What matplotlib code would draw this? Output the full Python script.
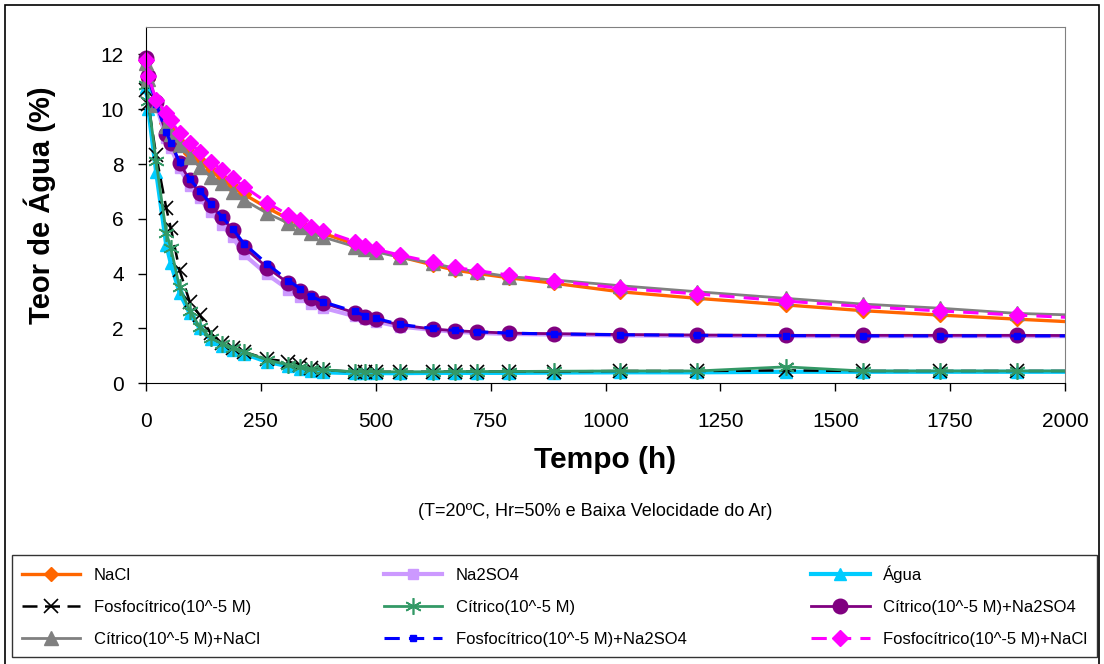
import matplotlib
matplotlib.use("Agg")
import matplotlib.pyplot as plt
from matplotlib.patches import Rectangle

plt.rcParams['font.family'] = ['Liberation Sans', 'DejaVu Sans']

# ── Dados ─────────────────────────────────────────────────────────────────────
tempo = [0, 5, 22, 44, 54, 73, 95, 117, 141, 165, 189, 213, 264, 310, 336, 360,
         386, 454, 476, 500, 552, 624, 672, 720, 790, 888, 1032, 1200, 1392,
         1560, 1728, 1896, 2064]

nacl = [11.75, 11.1, 10.2, 9.5, 9.25, 8.75, 8.4, 8.1, 7.75, 7.45, 7.15, 6.9, 6.4,
        6.0, 5.82, 5.62, 5.47, 5.08, 4.95, 4.85, 4.62, 4.32, 4.13, 4.01, 3.85,
        3.65, 3.34, 3.10, 2.86, 2.65, 2.49, 2.34, 2.2]
na2so4 = [11.75, 11.1, 10.15, 8.95, 8.6, 7.85, 7.2, 6.75, 6.25, 5.78, 5.33, 4.7,
          3.97, 3.42, 3.15, 2.9, 2.75, 2.45, 2.33, 2.25, 2.07, 1.95, 1.88, 1.84,
          1.8, 1.78, 1.75, 1.73, 1.72, 1.72, 1.72, 1.72, 1.72]
agua = [10.8, 10.0, 7.72, 5.05, 4.38, 3.3, 2.55, 2.0, 1.6, 1.35, 1.22, 1.08, 0.78,
        0.62, 0.52, 0.45, 0.40, 0.37, 0.37, 0.37, 0.37, 0.38, 0.38, 0.38, 0.38,
        0.39, 0.40, 0.40, 0.42, 0.42, 0.42, 0.42, 0.42]
fosfo = [10.7, 10.2, 8.33, 6.4, 5.66, 4.13, 2.98, 2.49, 1.82, 1.46, 1.28, 1.15,
         0.88, 0.79, 0.67, 0.57, 0.49, 0.42, 0.42, 0.42, 0.42, 0.42, 0.43, 0.43,
         0.43, 0.43, 0.45, 0.45, 0.47, 0.45, 0.45, 0.45, 0.45]
citrico = [10.9, 10.3, 8.1, 5.5, 4.95, 3.5, 2.65, 2.05, 1.65, 1.45, 1.3, 1.15,
           0.85, 0.67, 0.58, 0.51, 0.49, 0.42, 0.42, 0.42, 0.42, 0.42, 0.43,
           0.43, 0.43, 0.44, 0.45, 0.45, 0.6, 0.45, 0.45, 0.45, 0.45]
citrico_na2so4 = [11.86, 11.2, 10.28, 9.09, 8.76, 8.03, 7.42, 6.95, 6.5, 6.05,
                  5.6, 4.97, 4.22, 3.65, 3.38, 3.10, 2.92, 2.58, 2.43, 2.34,
                  2.13, 1.98, 1.92, 1.88, 1.83, 1.81, 1.78, 1.76, 1.75, 1.75,
                  1.75, 1.75, 1.74]
citrico_nacl = [11.7, 11.1, 10.16, 9.37, 9.1, 8.70, 8.27, 7.9, 7.54, 7.3, 6.99,
                6.69, 6.2, 5.84, 5.69, 5.47, 5.33, 4.99, 4.89, 4.80, 4.60, 4.38,
                4.20, 4.07, 3.89, 3.77, 3.56, 3.34, 3.10, 2.89, 2.74, 2.55, 2.47]
fosfo_na2so4 = [11.8, 11.2, 10.2, 9.16, 8.78, 8.07, 7.45, 7.03, 6.55, 6.08, 5.63,
                5.1, 4.35, 3.75, 3.45, 3.17, 2.97, 2.62, 2.47, 2.37, 2.15, 2.0,
                1.93, 1.88, 1.83, 1.80, 1.77, 1.75, 1.74, 1.73, 1.73, 1.73, 1.73]
fosfo_nacl = [11.8, 11.2, 10.35, 9.85, 9.6, 9.12, 8.76, 8.45, 8.09, 7.78, 7.48,
              7.18, 6.59, 6.14, 5.96, 5.72, 5.56, 5.17, 5.02, 4.89, 4.68, 4.42,
              4.23, 4.11, 3.95, 3.74, 3.47, 3.26, 3.0, 2.80, 2.64, 2.49, 2.36]

labels = ["NaCl", "Na2SO4", "Água",
          "Fosfocítrico(10^-5 M)", "Cítrico(10^-5 M)", "Cítrico(10^-5 M)+Na2SO4",
          "Cítrico(10^-5 M)+NaCl", "Fosfocítrico(10^-5 M)+Na2SO4",
          "Fosfocítrico(10^-5 M)+NaCl"]
x_ticks = [0, 250, 500, 750, 1000, 1250, 1500, 1750, 2000]
y_ticks = [0, 2, 4, 6, 8, 10, 12]

# ── Estilos ───────────────────────────────────────────────────────────────────
asterisk = (6, 2, 0)
styles = [
    (nacl,           dict(color="#FF6600", lw=2.4, ls="-",  marker="D", ms=7)),
    (na2so4,         dict(color="#CC99FF", lw=3.0, ls="-",  marker="s", ms=7)),
    (agua,           dict(color="#00CCFF", lw=3.0, ls="-",  marker="^", ms=8)),
    (fosfo,          dict(color="black",   lw=1.8, ls=(0, (6, 3)), marker="x", ms=10, mew=1.2)),
    (citrico,        dict(color="#339966", lw=2.0, ls="-",  marker=asterisk, ms=12, mew=1.2)),
    (citrico_na2so4, dict(color="#800080", lw=2.0, ls="-",  marker="o", ms=10.5)),
    (citrico_nacl,   dict(color="#808080", lw=2.0, ls="-",  marker="^", ms=9.5)),
    (fosfo_na2so4,   dict(color="#0000FF", lw=2.2, ls=(0, (5, 3)), marker="s", ms=4)),
    (fosfo_nacl,     dict(color="#FF00FF", lw=2.2, ls=(0, (5, 3)), marker="D", ms=8)),
]

# ── Figura ────────────────────────────────────────────────────────────────────
W, H = 1104, 664
fig = plt.figure(figsize=(W / 100, H / 100), dpi=100)
ax = fig.add_axes([146 / W, 1 - 383.3 / H, 919 / W, 356.3 / H])

# recorte que deixa os marcadores em t=0 inteiros, mas corta após 2000 h
clip = Rectangle((-0.03, -0.05), 1.03, 1.1, transform=ax.transAxes,
                 facecolor="none", edgecolor="none")
ax.add_patch(clip)

handles = []
for (vals, st), lab in zip(styles, labels):
    ln, = ax.plot(tempo, vals, label=lab, color=st["color"], lw=st["lw"],
                  ls=st["ls"], marker=st["marker"], ms=st["ms"],
                  mew=st.get("mew", 1.0), mfc=st["color"], mec=st["color"])
    ln.set_clip_path(clip)
    handles.append(ln)

ax.set_xlim(0, 2000)
ax.set_ylim(0, 13)
ax.set_xticks(x_ticks)
ax.set_yticks(y_ticks)
ax.tick_params(direction="out", length=6, width=1, labelsize=15)
ax.tick_params(axis="x", pad=15)
ax.tick_params(axis="y", pad=10)
for s in ("top", "right"):
    ax.spines[s].set_color("#808080")
for s in ("left", "bottom"):
    ax.spines[s].set_color("black")

ax.set_xlabel("Tempo (h)", fontsize=21.5, fontweight="bold", va="center")
ax.xaxis.set_label_coords(0.5, -0.215)
ax.set_ylabel("Teor de Água (%)", fontsize=21, fontweight="bold", va="center")
ax.yaxis.set_label_coords(-0.1153, 0.5)

fig.text(595 / W, 1 - 512 / H, "(T=20ºC, Hr=50% e Baixa Velocidade do Ar)",
         fontsize=13, ha="center", va="center")

# contorno externo
fig.patches.append(Rectangle((5 / W, -0.01), 1094 / W, 1 - 5 / H + 0.01,
                             transform=fig.transFigure, fill=False,
                             edgecolor="black", lw=1.2))

# legenda (ordem por linhas, como no Excel)
order = [0, 3, 6, 1, 4, 7, 2, 5, 8]
leg = fig.legend([handles[i] for i in order], [labels[i] for i in order],
                 ncol=3, loc="lower left", mode="expand",
                 bbox_to_anchor=(12 / W, 1 - 657 / H, 1085 / W, 102 / H),
                 borderaxespad=0, fontsize=12, frameon=True, fancybox=False,
                 edgecolor="black", numpoints=1, handlelength=3.5,
                 labelspacing=1.03, borderpad=0.6)
leg.get_frame().set_linewidth(1.0)

fig.savefig("out.png", dpi=100)
